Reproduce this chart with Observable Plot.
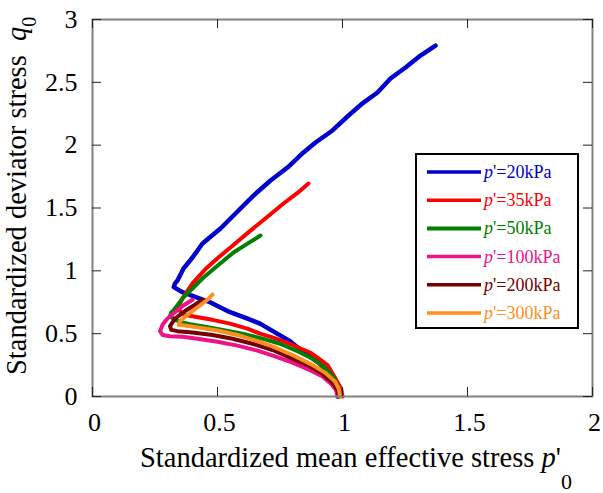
<!DOCTYPE html>
<html>
<head>
<meta charset="utf-8">
<script src="https://cdn.jsdelivr.net/npm/d3@7"></script>
<script src="https://cdn.jsdelivr.net/npm/@observablehq/plot@0.6"></script>
<style>
  html, body { margin: 0; padding: 0; background: #fff; }
  svg { display: block; }
</style>
</head>
<body>
<div id="chart"></div>
<script>
// ---- data ----
const xTicks = [0, 0.5, 1, 1.5, 2];
const yTicks = [0, 0.5, 1, 1.5, 2, 2.5, 3];
const seriesNames = ["20kPa", "35kPa", "50kPa", "100kPa", "200kPa", "300kPa"];
const seriesColors = ["#0000cd", "#ff0000", "#008000", "#ee1289", "#750000", "#ff8f1f"];

const p20 = [0.98, 0.975, 0.955, 0.905, 0.845, 0.79, 0.73, 0.67, 0.62, 0.54, 0.47, 0.40, 0.36, 0.325, 0.33, 0.34, 0.364, 0.40, 0.44, 0.512, 0.584, 0.644, 0.712, 0.78, 0.844, 0.892, 0.96, 1.024, 1.084, 1.14, 1.192, 1.252, 1.312, 1.372];
const q20 = [0.0, 0.09, 0.17, 0.27, 0.35, 0.44, 0.51, 0.58, 0.62, 0.68, 0.75, 0.80, 0.83, 0.87, 0.90, 0.923, 1.019, 1.106, 1.217, 1.337, 1.48, 1.599, 1.719, 1.822, 1.942, 2.021, 2.117, 2.236, 2.339, 2.419, 2.53, 2.618, 2.713, 2.793];

const p35 = [1.0, 0.995, 0.97, 0.94, 0.90, 0.87, 0.80, 0.72, 0.67, 0.62, 0.55, 0.48, 0.41, 0.37, 0.35, 0.345, 0.36, 0.40, 0.45, 0.50, 0.56, 0.632, 0.70, 0.764, 0.82, 0.864];
const q35 = [0.0, 0.06, 0.15, 0.25, 0.31, 0.35, 0.41, 0.47, 0.50, 0.54, 0.58, 0.61, 0.635, 0.65, 0.68, 0.72, 0.78, 0.90, 1.01, 1.10, 1.20, 1.32, 1.43, 1.536, 1.62, 1.695];

const p50 = [0.99, 0.985, 0.965, 0.93, 0.88, 0.82, 0.75, 0.68, 0.60, 0.52, 0.45, 0.39, 0.36, 0.33, 0.31, 0.315, 0.324, 0.364, 0.404, 0.444, 0.50, 0.564, 0.62, 0.672];
const q50 = [0.0, 0.07, 0.15, 0.23, 0.30, 0.36, 0.42, 0.46, 0.50, 0.53, 0.555, 0.575, 0.59, 0.61, 0.64, 0.67, 0.684, 0.79, 0.867, 0.947, 1.04, 1.146, 1.217, 1.281];

const p100 = [0.98, 0.975, 0.955, 0.92, 0.87, 0.80, 0.73, 0.66, 0.58, 0.50, 0.42, 0.36, 0.31, 0.28, 0.27, 0.28, 0.30, 0.33, 0.36, 0.40];
const q100 = [0.0, 0.05, 0.10, 0.16, 0.21, 0.27, 0.32, 0.365, 0.405, 0.435, 0.46, 0.475, 0.48, 0.49, 0.52, 0.57, 0.62, 0.67, 0.72, 0.77];

const p200 = [0.985, 0.98, 0.96, 0.92, 0.86, 0.79, 0.72, 0.64, 0.56, 0.48, 0.40, 0.34, 0.315, 0.31, 0.33, 0.37, 0.41, 0.44];
const q200 = [0.0, 0.05, 0.11, 0.18, 0.25, 0.31, 0.37, 0.42, 0.46, 0.49, 0.51, 0.52, 0.53, 0.56, 0.62, 0.68, 0.73, 0.77];

const p300 = [0.99, 0.985, 0.97, 0.93, 0.88, 0.80, 0.73, 0.66, 0.58, 0.50, 0.42, 0.37, 0.345, 0.35, 0.38, 0.42, 0.46, 0.48];
const q300 = [0.0, 0.06, 0.12, 0.19, 0.25, 0.33, 0.39, 0.44, 0.49, 0.525, 0.55, 0.565, 0.57, 0.60, 0.65, 0.71, 0.77, 0.81];

const pSeries = [p20, p35, p50, p100, p200, p300];
const qSeries = [q20, q35, q50, q100, q200, q300];

// ---- build table ----
const rows = [];
pSeries.forEach((ps, i) => ps.forEach((p, j) => rows.push({series: seriesNames[i], p, q: qSeries[i][j]})));

const lineMarks = seriesNames.map((name, i) =>
  Plot.line(rows.filter(r => r.series === name), {
    x: "p", y: "q", stroke: seriesColors[i], strokeWidth: i === 0 ? 4.5 : 4, strokeLinejoin: "round"
  })
);

const W = 603, H = 493, mL = 92, mR = 11, mT = 19, mB = 97;
const innerW = W - mL - mR, innerH = H - mT - mB;
const tickLen = 9;
const ff = "'Liberation Serif', 'Times New Roman', serif";

const svg = Plot.plot({
  width: W, height: H,
  marginLeft: mL, marginRight: mR, marginTop: mT, marginBottom: mB,
  x: {domain: [0, 2]},
  y: {domain: [0, 3]},
  style: {fontFamily: ff, background: "#fff", color: "#000", overflow: "visible"},
  marks: [
    ...lineMarks,
    Plot.frame({stroke: "#808080", strokeWidth: 2}),
    Plot.ruleX(xTicks, {x: d => d, insetTop: innerH - tickLen, stroke: "#222"}),
    Plot.ruleX(xTicks, {x: d => d, insetBottom: innerH - tickLen, stroke: "#222"}),
    Plot.ruleY(yTicks, {y: d => d, insetRight: innerW - tickLen, stroke: "#222"}),
    Plot.ruleY(yTicks, {y: d => d, insetLeft: innerW - tickLen, stroke: "#222"}),
    Plot.axisX(xTicks, {tickSize: 0, tickPadding: 16, fontSize: 26, label: null, dx: 2, tickFormat: d => String(d)}),
    Plot.axisY(yTicks, {tickSize: 0, tickPadding: 15, fontSize: 26, label: null, tickFormat: d => String(d)})
  ]
});

document.getElementById("chart").appendChild(svg);

// ---- titles ----
const s = d3.select(svg);

const xt = s.append("text")
  .attr("x", 140).attr("y", 467)
  .attr("text-anchor", "start")
  .attr("font-family", ff).attr("font-size", 28.5).attr("fill", "#000");
xt.append("tspan").text("Standardized mean effective stress ");
xt.append("tspan").attr("font-style", "italic").text("p");
xt.append("tspan").text("'");
xt.append("tspan").attr("dy", 22).attr("font-size", 22).text("0");

const yt = s.append("text")
  .attr("transform", "translate(26,375) rotate(-90)")
  .attr("text-anchor", "start")
  .attr("font-family", ff).attr("font-size", 28.5).attr("fill", "#000");
yt.append("tspan").text("Standardized deviator stress  ");
yt.append("tspan").attr("font-style", "italic").text("q");
yt.append("tspan").attr("dy", 10).attr("font-size", 20).text("0");

// ---- legend ----
const lg = s.append("g").attr("text-anchor", "start");
lg.append("rect").attr("x", 416).attr("y", 154).attr("width", 162).attr("height", 174)
  .attr("fill", "#fff").attr("stroke", "#000").attr("stroke-width", 2);
seriesNames.forEach((name, i) => {
  const y = 172 + i * 28.2;
  lg.append("line").attr("x1", 427).attr("x2", 481).attr("y1", y).attr("y2", y)
    .attr("stroke", seriesColors[i]).attr("stroke-width", i === 2 ? 4 : 3.5);
  const t = lg.append("text").attr("x", 484).attr("y", y + 6)
    .attr("text-anchor", "start")
    .attr("font-family", ff).attr("font-size", 18).attr("fill", seriesColors[i]);
  t.append("tspan").attr("font-style", "italic").text("p");
  t.append("tspan").text("'=" + name);
});
</script>
</body>
</html>
